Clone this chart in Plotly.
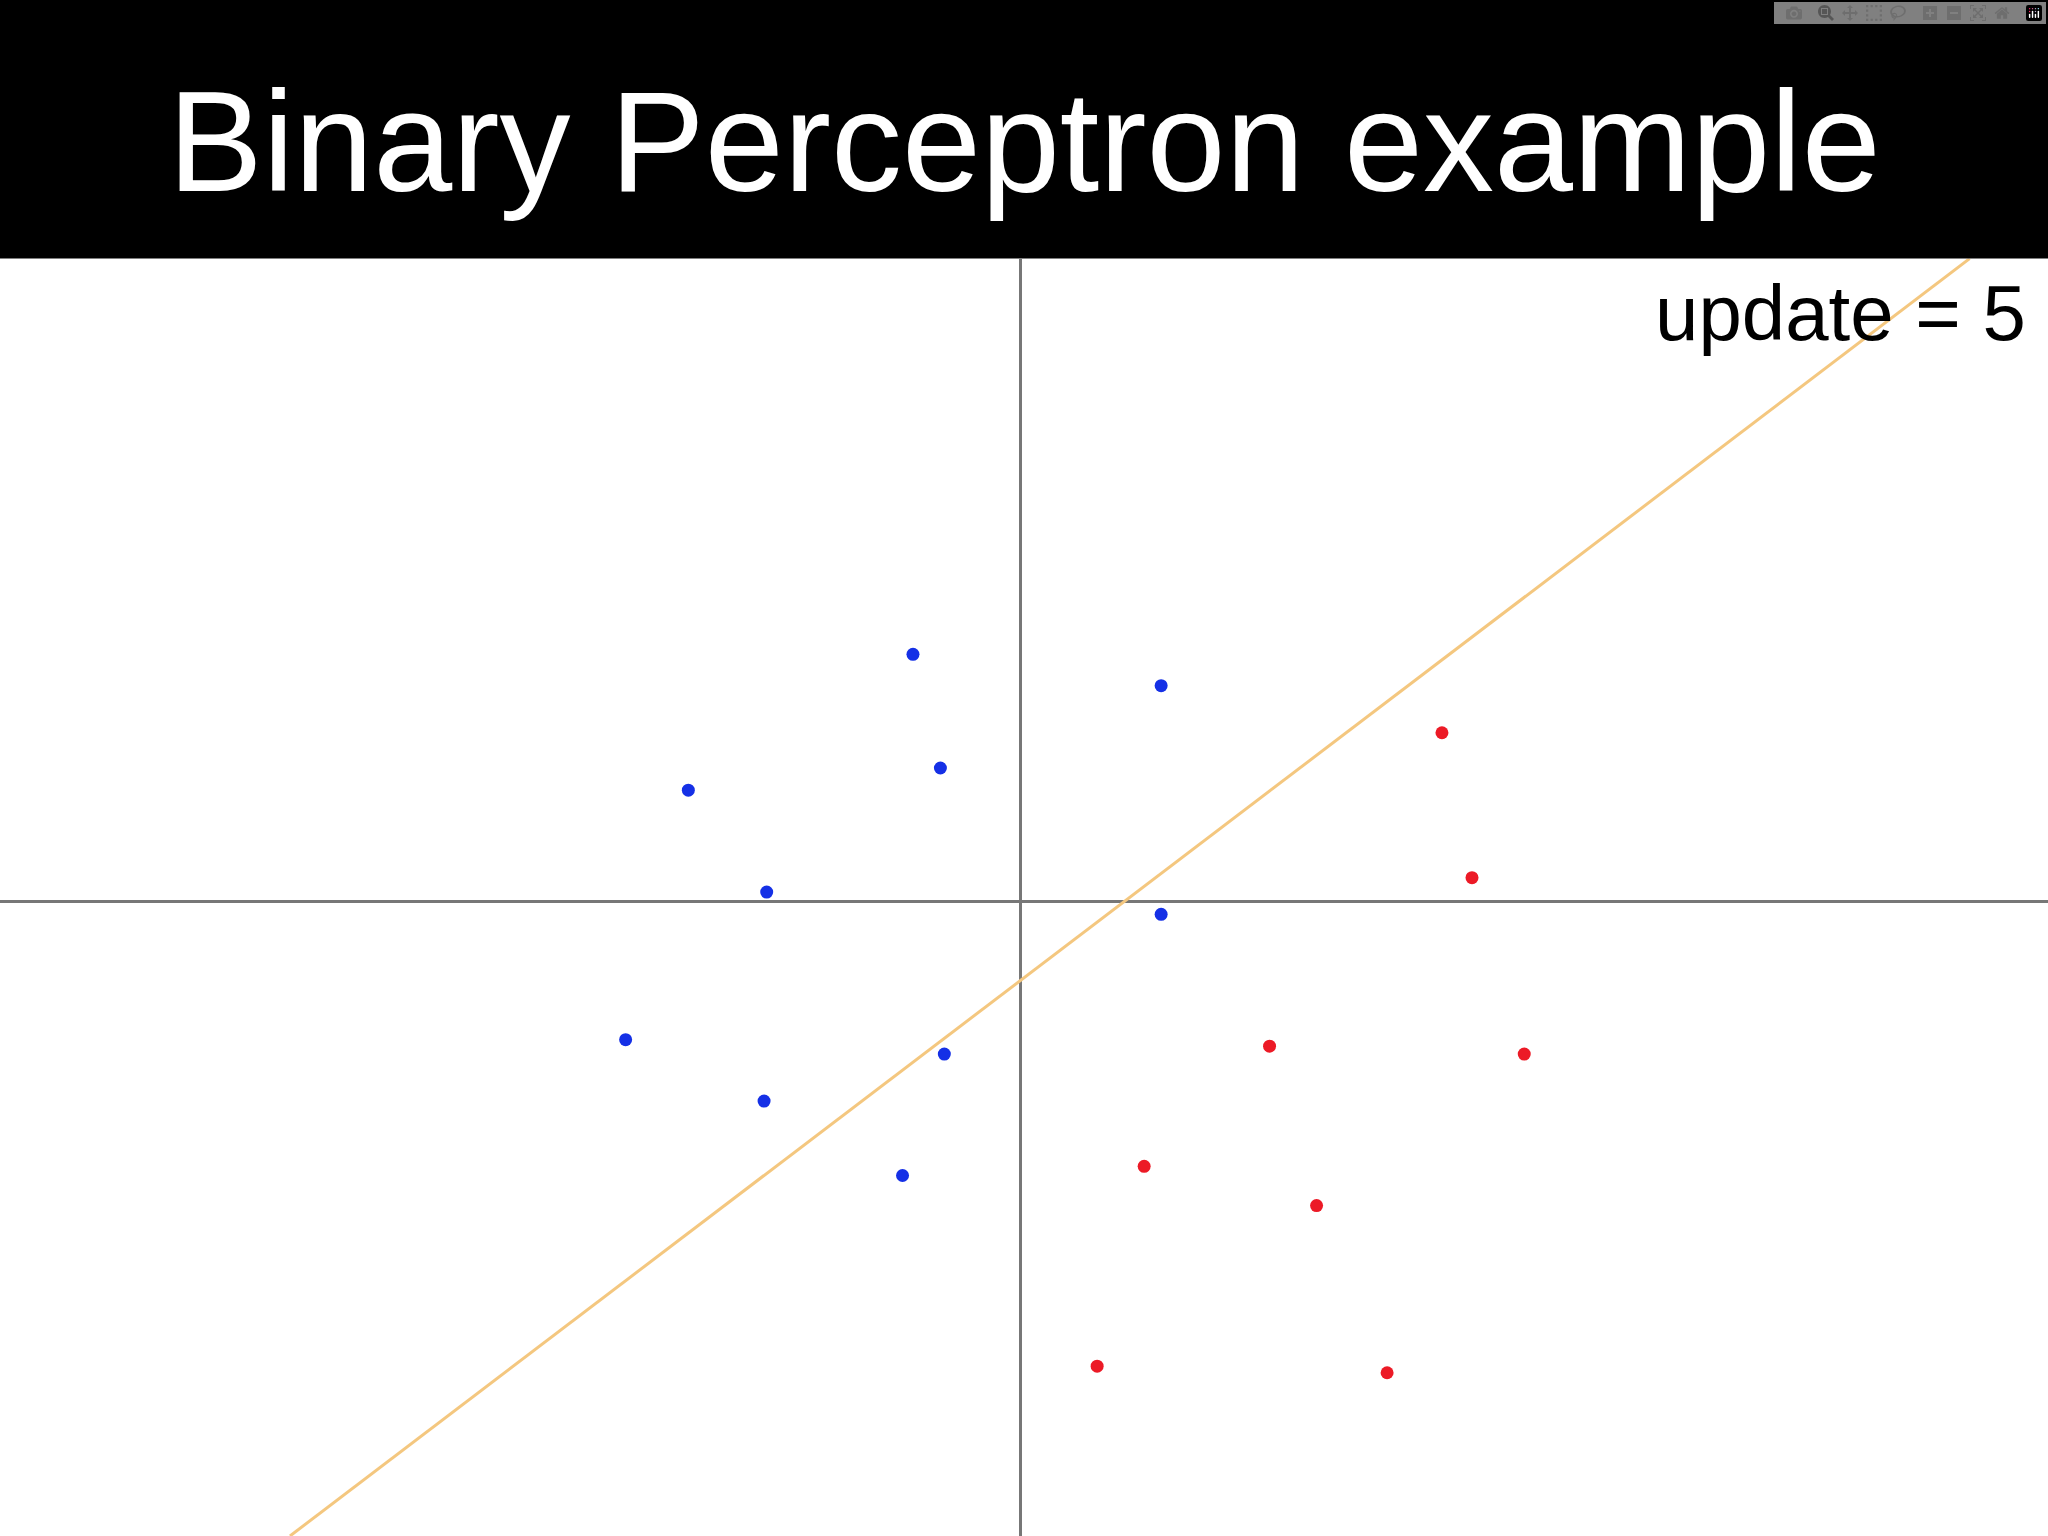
import plotly.graph_objects as go

# points (axis units)
blue_x = [-0.82, 1.08, -0.61, -2.54, -1.94, 1.08, -3.02, -0.58, -1.96, -0.90]
blue_y = [1.89, 1.65, 1.02, 0.85, 0.07, -0.10, -1.06, -1.17, -1.53, -2.10]
red_x = [3.23, 3.46, 1.91, 3.86, 0.95, 2.27, 0.59, 2.81]
red_y = [1.29, 0.18, -1.11, -1.17, -2.03, -2.33, -3.56, -3.61]
line_x = [-5.59, 7.27]
line_y = [-4.86, 4.92]

fig = go.Figure()
fig.add_trace(go.Scatter(x=line_x, y=line_y, mode="lines",
                         line=dict(color="#f4c77f", width=3)))
fig.add_trace(go.Scatter(x=blue_x, y=blue_y, mode="markers",
                         marker=dict(color="#1530e6", size=13)))
fig.add_trace(go.Scatter(x=red_x, y=red_y, mode="markers",
                         marker=dict(color="#ec1a26", size=13)))

top = (1176 - 198) / 1176
fig.update_layout(
    width=2048, height=1536, showlegend=False,
    margin=dict(l=0, r=0, t=0, b=0),
    paper_bgcolor="white", plot_bgcolor="white",
    xaxis=dict(range=[-7.81, 7.87], showgrid=False, showticklabels=False,
               zeroline=True, zerolinecolor="#777777", zerolinewidth=3),
    yaxis=dict(range=[-4.86, 4.92], showgrid=False, showticklabels=False,
               zeroline=True, zerolinecolor="#777777", zerolinewidth=3,
               domain=[0, top]),
    shapes=[dict(type="rect", xref="paper", yref="paper", x0=0, x1=1,
                 y0=top, y1=1, fillcolor="black", line_width=0)],
    annotations=[
        dict(text="Binary Perceptron example", xref="paper", yref="paper",
             x=0.5, y=1 - 108 / 1176, yanchor="middle", showarrow=False,
             font=dict(family="Liberation Sans", size=142, color="white")),
        dict(text="update = 5", xref="paper", yref="paper",
             x=0.99, y=1 - 240 / 1176, xanchor="right", yanchor="middle",
             showarrow=False,
             font=dict(family="Liberation Sans", size=78, color="black")),
    ],
)
fig.write_html("out.html", post_script="document.body.style.margin='0';")
